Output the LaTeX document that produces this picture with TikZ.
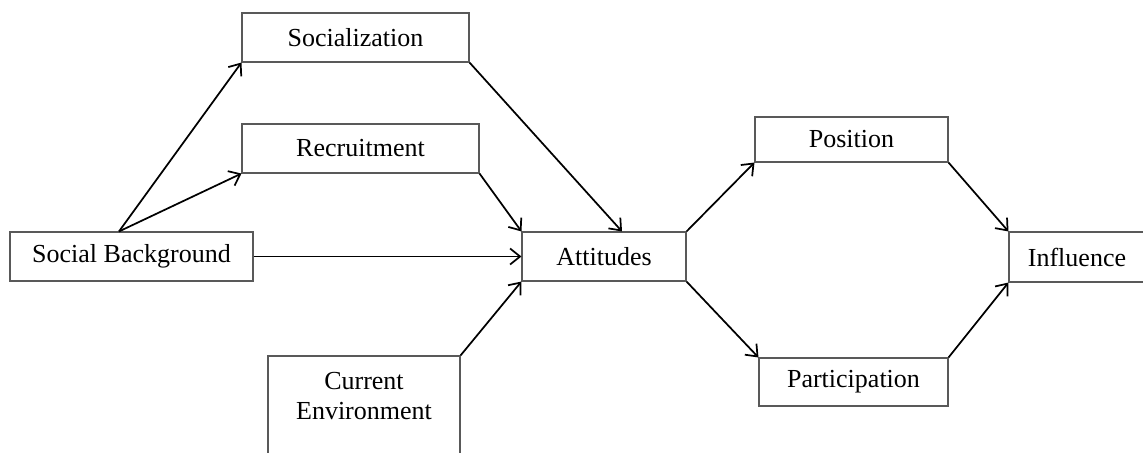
\documentclass[tikz,border=0pt]{standalone}
\usepackage{fontspec}
\setmainfont{Liberation Serif}
\usetikzlibrary{arrows.meta, positioning}

\begin{document}
\begin{tikzpicture}[
	  x=0.75pt, y=-0.75pt,
	  font=\fontsize{19.5}{22.5}\selectfont,
	  box/.style={
	    draw=black!65,
	    line width=0.8pt,
	    align=center,
	    inner sep=0pt,
	    minimum height=36.75pt
	  },
	  arrow/.style={-{Straight Barb[length=7.5pt,width=12pt]}, line width=1.3pt}
	]
	\useasboundingbox (0,0) rectangle (1143,453);

	% Left side
	\node[box, minimum width=170.25pt] (soc) at (355.5,37.5) {Socialization};
	\node[box, minimum width=177.75pt] (rec) at (360.5,148.5) {Recruitment};
	\node[box, minimum width=182.25pt] (bg) at (131.5,256.5) {Social Background};
	\node[box, minimum width=144pt, minimum height=82.5pt] (env) at (364,411) {Current\\Environment\\ \mbox{}};

	% Middle
	\node[box, minimum width=123pt] (att) at (604,256.5) {Attitudes};

	% Right side
	\node[box, minimum width=144.75pt, minimum height=33.75pt] (pos) at (851.5,139.5) {Position};
	\node[box, minimum width=141.75pt, minimum height=36pt] (par) at (853.5,382) {Participation};
	\node[box, minimum width=102pt, minimum height=37.5pt] (inf) at (1077,257) {Influence};

	% Paths into attitudes
	\draw[arrow] ([xshift=-9.4pt]bg.north) -- (soc.south west);
	\draw[arrow] ([xshift=-9.4pt]bg.north) -- (rec.south west);
	\draw[arrow] (bg.east) -- (att.west);
	\draw[arrow] (soc.south east) -- ([xshift=13.5pt]att.north);
	\draw[arrow] (rec.south east) -- (att.north west);
	\draw[arrow] (env.north east) -- (att.south west);

	% Paths out to influence
	\draw[arrow] (att.north east) -- (pos.south west);
	\draw[arrow] (att.south east) -- (par.north west);
	\draw[arrow] (pos.south east) -- (inf.north west);
	\draw[arrow] (par.north east) -- (inf.south west);

\end{tikzpicture}
\end{document}
